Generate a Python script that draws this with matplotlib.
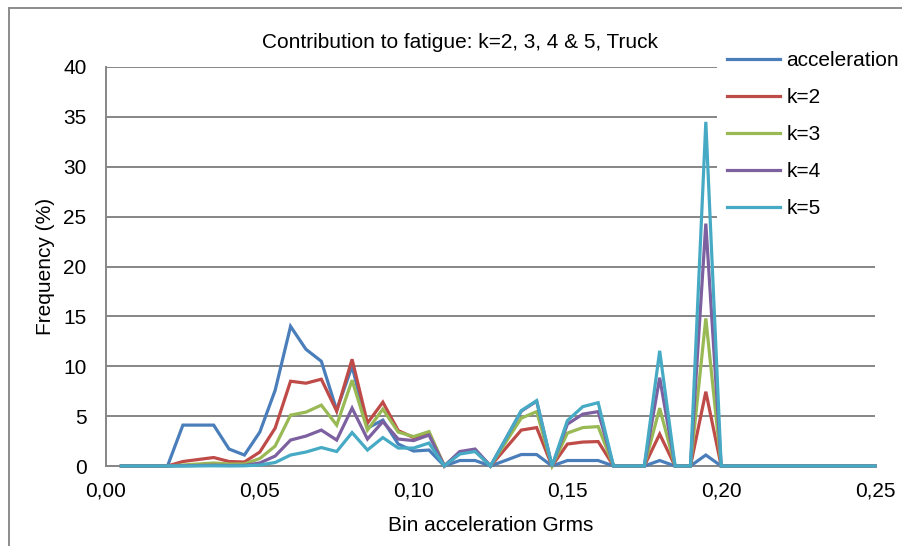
import numpy as np
import matplotlib
matplotlib.use('Agg')
import matplotlib.pyplot as plt
from matplotlib.lines import Line2D
from matplotlib.ticker import FuncFormatter

plt.rcParams['font.family'] = ['Liberation Sans', 'DejaVu Sans']

# bin centres (Grms)
bins = [0.005, 0.010, 0.015, 0.020, 0.025, 0.030, 0.035, 0.040, 0.045, 0.050,
        0.055, 0.060, 0.065, 0.070, 0.075, 0.080, 0.085, 0.090, 0.095, 0.100,
        0.105, 0.110, 0.115, 0.120, 0.125, 0.130, 0.135, 0.140, 0.145, 0.150,
        0.155, 0.160, 0.165, 0.170, 0.175, 0.180, 0.185, 0.190, 0.195, 0.200,
        0.205, 0.210, 0.215, 0.220, 0.225, 0.230, 0.235, 0.240, 0.245, 0.250]

acceleration = [0, 0, 0, 0, 4.1, 4.1, 4.1, 1.7, 1.1, 3.4,
                7.6, 14.0, 11.7, 10.5, 5.6, 10.0, 3.8, 4.6, 2.2, 1.5,
                1.6, 0, 0.55, 0.55, 0, 0.57, 1.15, 1.15, 0, 0.55,
                0.55, 0.55, 0, 0, 0, 0.55, 0, 0, 1.1, 0,
                0, 0, 0, 0, 0, 0, 0, 0, 0, 0]
k2 = [0, 0, 0, 0, 0.45, 0.65, 0.85, 0.45, 0.4, 1.4,
      3.8, 8.5, 8.3, 8.7, 5.5, 10.7, 4.3, 6.4, 3.55, 2.85,
      3.35, 0, 1.3, 1.6, 0, 1.8, 3.6, 3.85, 0, 2.2,
      2.4, 2.45, 0, 0, 0, 3.2, 0, 0, 7.45, 0,
      0, 0, 0, 0, 0, 0, 0, 0, 0, 0]
k3 = [0, 0, 0, 0, 0.1, 0.2, 0.3, 0.2, 0.2, 0.75,
      2.0, 5.1, 5.4, 6.1, 4.1, 8.6, 3.6, 5.7, 3.4, 2.95,
      3.45, 0, 1.35, 1.55, 0, 2.4, 4.8, 5.45, 0, 3.3,
      3.85, 3.95, 0, 0, 0, 5.8, 0, 0, 14.8, 0,
      0, 0, 0, 0, 0, 0, 0, 0, 0, 0]
k4 = [0, 0, 0, 0, 0.02, 0.05, 0.08, 0.05, 0.06, 0.3,
      1.0, 2.6, 3.0, 3.6, 2.6, 5.8, 2.7, 4.45, 2.7, 2.55,
      3.1, 0, 1.45, 1.7, 0, 2.75, 5.5, 6.5, 0, 4.2,
      5.2, 5.45, 0, 0, 0, 8.85, 0, 0, 24.3, 0,
      0, 0, 0, 0, 0, 0, 0, 0, 0, 0]
k5 = [0, 0, 0, 0, 0.0, 0.01, 0.02, 0.01, 0.02, 0.1,
      0.35, 1.1, 1.4, 1.85, 1.45, 3.35, 1.6, 2.85, 1.8, 1.8,
      2.3, 0, 1.2, 1.45, 0, 2.75, 5.55, 6.55, 0, 4.55,
      5.95, 6.35, 0, 0, 0, 11.55, 0, 0, 34.5, 0,
      0, 0, 0, 0, 0, 0, 0, 0, 0, 0]

series = [
    ('acceleration', acceleration, '#4A7EBB'),
    ('k=2', k2, '#BE4B48'),
    ('k=3', k3, '#98B954'),
    ('k=4', k4, '#7D60A0'),
    ('k=5', k5, '#46AAC5'),
]

W, H = 902, 546
FS = 15
fig = plt.figure(figsize=(W / 100, H / 100), dpi=100)
ax = fig.add_axes([106 / W, 1 - 466 / H, (875 - 106) / W, (466 - 67) / H])

for label, vals, color in series:
    ax.plot(bins, vals, color=color, lw=2.3, label=label, solid_joinstyle='miter',
            clip_on=False, zorder=3)

ax.set_xlim(0, 0.25)
ax.set_ylim(0, 40)
ax.set_xticks([0, 0.05, 0.10, 0.15, 0.20, 0.25])
ax.set_yticks(range(0, 41, 5))
ax.xaxis.set_major_formatter(FuncFormatter(lambda v, p: f'{v:.2f}'.replace('.', ',')))
ax.tick_params(length=0, labelsize=FS)
ax.tick_params(axis='y', pad=14)
ax.tick_params(axis='x', pad=11)

grid_c = '#868686'
ax.grid(axis='y', color=grid_c, lw=1.4)
ax.set_axisbelow(True)
for s in ['top', 'right']:
    ax.spines[s].set_visible(False)
for s in ['left', 'bottom']:
    ax.spines[s].set_color(grid_c)
    ax.spines[s].set_linewidth(1.4)

ax.set_xlabel('Bin acceleration Grms', fontsize=FS, labelpad=11)
ax.set_ylabel('Frequency (%)', fontsize=FS, labelpad=6)

fig.text(460 / W, 1 - 43 / H, 'Contribution to fatigue: k=2, 3, 4 & 5, Truck',
         ha='center', va='center', fontsize=FS)

leg = fig.legend(loc='upper left', bbox_to_anchor=(717 / W, 1 - 41 / H),
                 fontsize=FS, frameon=True, fancybox=False, framealpha=1,
                 facecolor='white', handlelength=2.55, handletextpad=0.29,
                 labelspacing=0.87, borderpad=0.48, borderaxespad=0)
leg.get_frame().set_linewidth(0)

# outer chart-area border (left and top edges visible)
fig.add_artist(Line2D([9 / W, 9 / W], [0, 1 - 8 / H], color='#8c8c8c', lw=1.4))
fig.add_artist(Line2D([9 / W, 1], [1 - 8 / H, 1 - 8 / H], color='#8c8c8c', lw=1.4))

fig.savefig('out.png', dpi=100)
